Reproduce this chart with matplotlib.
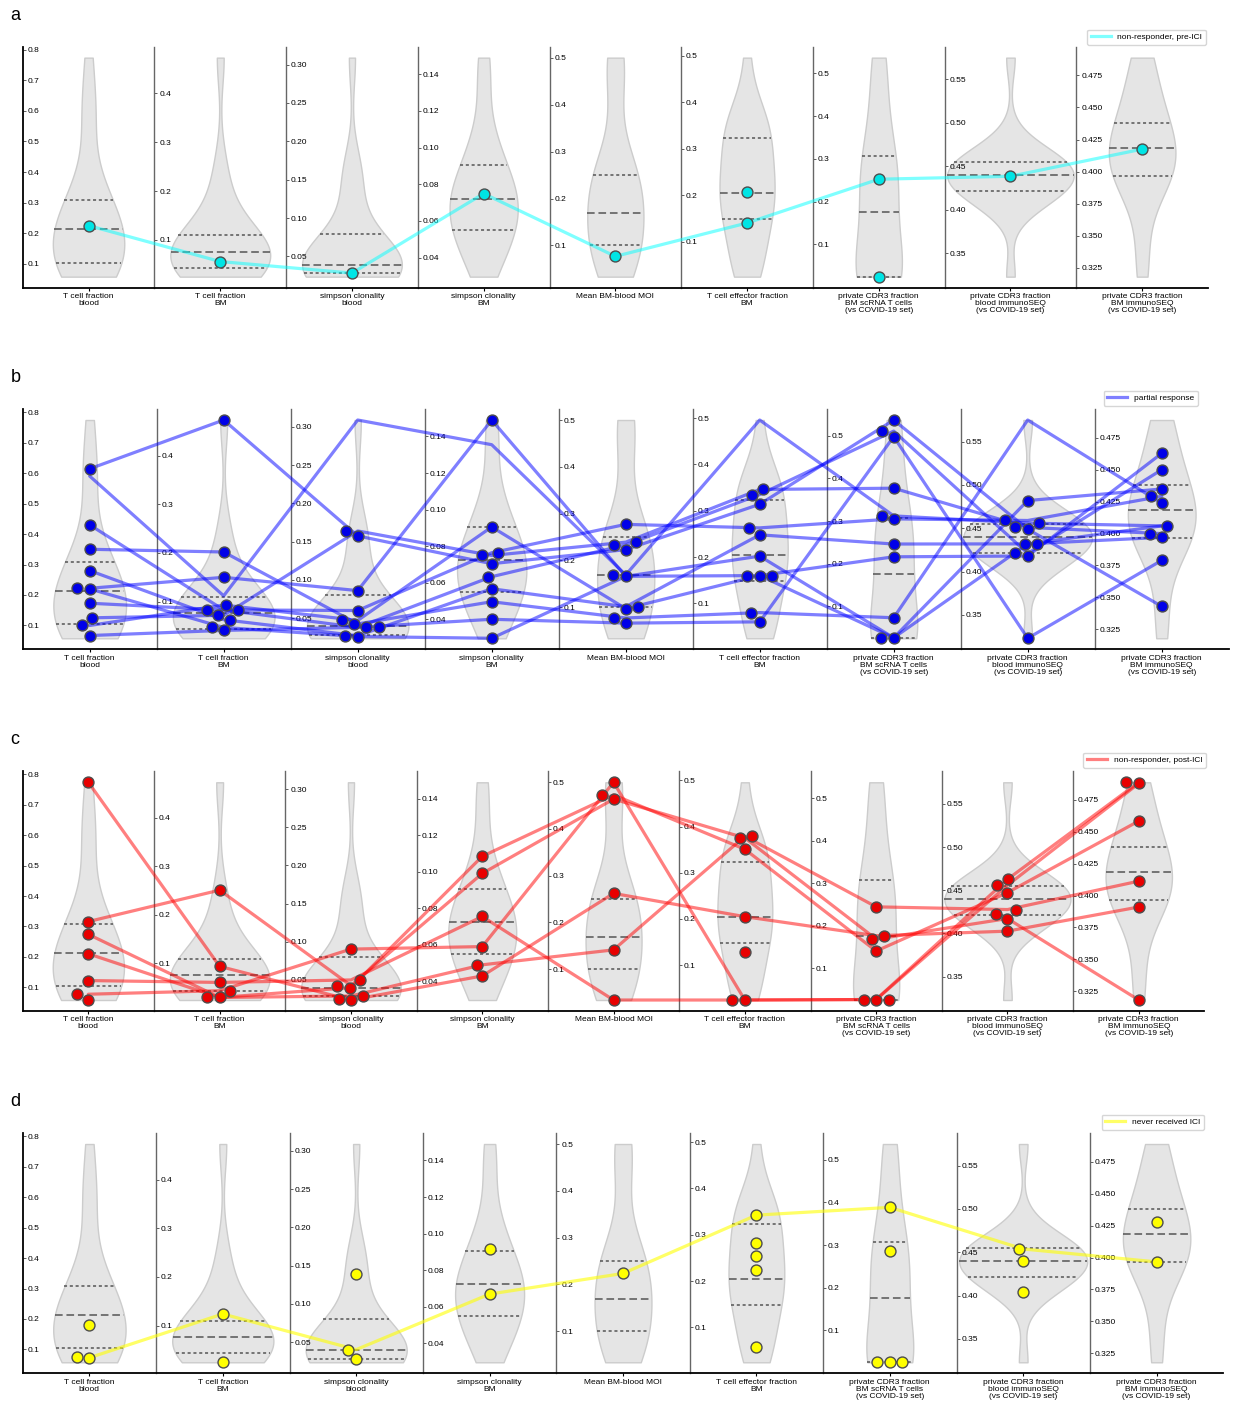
import numpy as np
import matplotlib.pyplot as plt
from matplotlib.lines import Line2D
from matplotlib.ticker import MaxNLocator, FixedLocator

plt.rcParams['font.family'] = ['Liberation Sans', 'DejaVu Sans']

# === Variables: one violin and one y-scale each ===
labels = [
    "T cell fraction\nblood",
    "T cell fraction\nBM",
    "simpson clonality\nblood",
    "simpson clonality\nBM",
    "Mean BM-blood MOI",
    "T cell effector fraction\nBM",
    "private CDR3 fraction\nBM scRNA T cells\n(vs COVID-19 set)",
    "private CDR3 fraction\nblood immunoSEQ\n(vs COVID-19 set)",
    "private CDR3 fraction\nBM immunoSEQ\n(vs COVID-19 set)",
]

# === Quartile lines of the violins ===
q25 = [0.104, 0.043, 0.0284, 0.055, 0.100, 0.149, 0.025, 0.421, 0.3966]
q50 = [0.214, 0.076, 0.0395, 0.0722, 0.169, 0.205, 0.176, 0.4396, 0.4187]
q75 = [0.307, 0.110, 0.0797, 0.0906, 0.251, 0.324, 0.306, 0.4546, 0.4379]

# === a: non-responder, pre-ICI ===
a_dots = [[0.225], [0.0557], [0.0283], [0.0749], [0.0768], [0.2058, 0.14],
          [0.2527, 0.0248], [0.4385], [0.4175]]
a_lines = [[0.225, 0.0557, 0.0283, 0.0749, 0.0768, 0.14, 0.2527, 0.4385, 0.4175]]

# === b: partial response ===
b_dots = [
    [0.614, 0.43, 0.35, 0.28, 0.222, 0.22, 0.173, 0.125, 0.10, 0.067],
    [0.473, 0.202, 0.15, 0.093, 0.083, 0.083, 0.072, 0.063, 0.047, 0.041],
    [0.164, 0.1575, 0.086, 0.06, 0.047, 0.0425, 0.038, 0.038, 0.027, 0.026],
    [0.149, 0.0905, 0.0764, 0.0749, 0.0704, 0.0633, 0.0567, 0.0496, 0.04, 0.0296],
    [0.277, 0.239, 0.233, 0.223, 0.169, 0.166, 0.101, 0.097, 0.077, 0.066],
    [0.346, 0.335, 0.314, 0.263, 0.248, 0.202, 0.16, 0.16, 0.16, 0.08, 0.06],
    [0.537, 0.511, 0.498, 0.377, 0.312, 0.305, 0.246, 0.216, 0.073, 0.026, 0.026],
    [0.482, 0.459, 0.456, 0.451, 0.449, 0.432, 0.432, 0.421, 0.418, 0.323],
    [0.4628, 0.45, 0.4349, 0.4292, 0.4238, 0.406, 0.40, 0.397, 0.379, 0.343],
]
b_lines = [
    [0.614, 0.473, 0.1575, 0.0704, 0.223, 0.314, 0.537, 0.449, 0.343],
    [0.59, 0.112, 0.309, 0.1355, 0.169, 0.496, 0.312, 0.456, 0.406],
    [0.43, 0.083, 0.038, 0.0633, 0.233, 0.335, 0.511, 0.421, 0.45],
    [0.35, 0.202, 0.0425, 0.0496, 0.077, 0.08, 0.073, 0.575, 0.4238],
    [0.28, 0.063, 0.027, 0.0567, 0.101, 0.248, 0.246, 0.432, 0.397],
    [0.222, 0.15, 0.086, 0.149, 0.166, 0.16, 0.216, 0.418, 0.4628],
    [0.22, 0.047, 0.026, 0.0296, 0.166, 0.202, 0.026, 0.482, 0.4349],
    [0.173, 0.083, 0.06, 0.0764, 0.277, 0.263, 0.305, 0.459, 0.4292],
    [0.125, 0.072, 0.164, 0.0749, 0.239, 0.346, 0.377, 0.451, 0.40],
    [0.10, 0.093, 0.047, 0.0905, 0.097, 0.16, 0.026, 0.432, 0.406],
    [0.067, 0.041, 0.038, 0.04, 0.066, 0.06, 0.498, 0.323, 0.379],
]

# === c: non-responder, post-ICI ===
c_dots = [
    [0.774, 0.316, 0.274, 0.21, 0.122, 0.077, 0.058],
    [0.251, 0.094, 0.061, 0.044, 0.03, 0.03],
    [0.0904, 0.05, 0.0426, 0.04, 0.029, 0.0255, 0.0237],
    [0.1084, 0.099, 0.0754, 0.0589, 0.0489, 0.0428],
    [0.5, 0.473, 0.464, 0.262, 0.141, 0.0336],
    [0.379, 0.3755, 0.351, 0.205, 0.129, 0.0245, 0.0245],
    [0.244, 0.176, 0.168, 0.14, 0.026, 0.026, 0.026],
    [0.4627, 0.4558, 0.4473, 0.4277, 0.4231, 0.4173, 0.4027],
    [0.4889, 0.488, 0.4585, 0.4113, 0.391, 0.318],
]
c_lines = [
    [0.774, 0.094, 0.0237, 0.0428, 0.262, 0.205, 0.176, 0.4027, 0.391],
    [0.316, 0.251, 0.0426, 0.099, 0.464, 0.3755, 0.168, 0.4173, 0.318],
    [0.274, 0.03, 0.029, 0.0489, 0.141, 0.379, 0.244, 0.4277, 0.4113],
    [0.21, 0.03, 0.04, 0.1084, 0.473, 0.351, 0.14, 0.4473, 0.4585],
    [0.122, 0.061, 0.05, 0.0754, 0.0336, 0.0245, 0.026, 0.4558, 0.488],
    [0.077, 0.044, 0.0904, 0.0589, 0.5, 0.0245, 0.026, 0.4627, 0.4889],
]

# === d: never received ICI ===
d_dots = [[0.179, 0.075, 0.073], [0.124, 0.0248], [0.139, 0.0403, 0.0284],
          [0.0918, 0.0669], [0.2234], [0.3424, 0.282, 0.2532, 0.223, 0.0583],
          [0.3883, 0.2852, 0.0262, 0.0262, 0.0262], [0.4538, 0.4404, 0.4038],
          [0.4281, 0.3966]]
d_lines = [[0.073, 0.124, 0.0403, 0.0669, 0.2234, 0.3424, 0.3883, 0.4538, 0.3966]]

groups = [
    ("a", "non-responder, pre-ICI", "#00e5e5", "cyan", 0.5, a_dots, a_lines),
    ("b", "partial response", "#0000e8", "#0000ff", 0.5, b_dots, b_lines),
    ("c", "non-responder, post-ICI", "#e80000", "#ff0000", 0.5, c_dots, c_lines),
    ("d", "never received ICI", "#ffff00", "#ffff00", 0.6, d_dots, d_lines),
]

# panel boxes in pixels: left, top, right, bottom ; legend right/bottom
W, H = 1233, 1406
boxes = {"a": (22.7, 46.7, 1208.0, 287.6), "b": (22.7, 409.1, 1228.7, 649.2),
         "c": (22.7, 771.4, 1204.4, 1010.9), "d": (22.7, 1133.1, 1223.3, 1373.2)}
leg_pos = {"a": (1206, 45), "b": (1198, 406), "c": (1206, 768), "d": (1204, 1130)}

# === pooled data behind the violins (dots + line vertices without a dot) ===
pool = [[] for _ in range(9)]
for g in groups:
    dots, lines = g[5], g[6]
    for j in range(9):
        pool[j] += list(dots[j])
        extra = set()
        for ln in lines:
            if not any(abs(ln[j] - v) < 1e-9 for v in dots[j]):
                extra.add(ln[j])
        pool[j] += sorted(extra)

vmin = [min(p) for p in pool]
vmax = [max(p) for p in pool]


def norm(v, j):
    return (np.asarray(v, dtype=float) - vmin[j]) / (vmax[j] - vmin[j])


# gaussian kde (scott) in normalized units, cut at data range
grids, dens = [], []
for j in range(9):
    x = norm(pool[j], j)
    bw = x.std(ddof=1) * len(x) ** (-0.2)
    grid = np.linspace(0, 1, 200)
    z = (grid[:, None] - x[None, :]) / bw
    dens.append(np.exp(-0.5 * z ** 2).sum(1) / (len(x) * bw * np.sqrt(2 * np.pi)))
    grids.append(grid)
gmax = max(d.max() for d in dens)
half = 0.48

# tick values per scale: nice steps inside the data range (small slack)
ticks = []
for j in range(9):
    lo, hi = vmin[j], vmax[j]
    span = hi - lo
    tv = MaxNLocator(nbins=9, steps=[1, 2, 2.5, 5, 10]).tick_values(lo - 0.05 * span, hi + 0.05 * span)
    ticks.append([t for t in tv if lo - 0.04 * span <= t <= hi + 0.04 * span])


def swarm(ys, diam):
    # simple beeswarm in pixel units, returns x offsets in px
    order = np.argsort(ys)
    placed = []
    out = np.zeros(len(ys))
    for i in order:
        y = ys[i]
        cands = [0.0]
        for px, py in placed:
            dy = y - py
            if abs(dy) < diam:
                dx = np.sqrt(diam ** 2 - dy ** 2)
                cands += [px - dx, px + dx]
        cands.sort(key=abs)
        for c in cands:
            if all((c - px) ** 2 + (y - py) ** 2 >= diam ** 2 - 1e-6 for px, py in placed):
                break
        placed.append((c, y))
        out[i] = c
    return out


fig = plt.figure(figsize=(W / 100, H / 100), dpi=100)

for key, name, dotcol, linecol, alpha, dots, lines in groups:
    l, t, r, b = boxes[key]
    ax = fig.add_axes([l / W, 1 - b / H, (r - l) / W, (b - t) / H])
    ax.set_xlim(-0.5, 8.5)
    ax.set_ylim(-0.05, 1.05)
    px_x = (r - l) / 9
    px_y = (b - t) / 1.1

    for s in ("top", "right", "left"):
        ax.spines[s].set_visible(False)
    ax.spines["bottom"].set_linewidth(1.3)
    ax.set_yticks([])
    ax.set_xticks(range(9))
    ax.set_xticklabels(labels, fontsize=6, linespacing=1.0)
    ax.tick_params(axis="x", length=2.5, width=0.8, pad=1.5)

    # per-variable scales on separators
    for j in range(9):
        lo, hi = vmin[j], vmax[j]
        sec = ax.secondary_yaxis(j / 9, functions=(lambda y, lo=lo, hi=hi: lo + y * (hi - lo),
                                                   lambda v, lo=lo, hi=hi: (v - lo) / (hi - lo)))
        sec.set_alignment("right")
        sec.set_zorder(1.5)
        sec.yaxis.set_major_locator(FixedLocator(ticks[j]))
        sec.tick_params(labelsize=6, length=2.0, width=0.6, pad=1.5, color="#444444")
        sec.spines["right"].set_color("black" if j == 0 else "#666666")
        sec.spines["right"].set_linewidth(1.3 if j == 0 else 1.0)

    # violins + quartiles
    for j in range(9):
        w = dens[j] / gmax * half
        ax.fill_betweenx(grids[j], j - w, j + w, facecolor="#e5e5e5",
                         edgecolor="#cccccc", linewidth=1.0, zorder=1)
        for q, dash in ((q25[j], (2, 1.8)), (q50[j], (5, 2.5)), (q75[j], (2, 1.8))):
            qn = float(norm(q, j))
            hw = np.interp(qn, grids[j], w)
            ax.plot([j - hw, j + hw], [qn, qn], color="#555555", lw=1.1,
                    dashes=dash, zorder=2)

    # patient lines
    for ln in lines:
        ys = [float(norm(v, j)) for j, v in enumerate(ln)]
        ax.plot(range(9), ys, color=linecol, alpha=alpha, lw=2.3,
                solid_joinstyle="round", solid_capstyle="round", zorder=3)

    # dots, swarmed
    for j in range(9):
        ys = norm(dots[j], j)
        off = swarm(ys * px_y, 12.5) / px_x
        ax.scatter(j + off, ys, s=62, c=dotcol, edgecolors="#4d4d4d",
                   linewidths=1.0, zorder=4)

    h = Line2D([0], [0], color=linecol, alpha=alpha, lw=2.3)
    lx, ly = leg_pos[key]
    ax.legend([h], [name], loc="lower right", bbox_to_anchor=(lx / W, 1 - ly / H),
              bbox_transform=fig.transFigure, borderaxespad=0, fontsize=6,
              handlelength=2.4, borderpad=0.45)

    fig.text(10.5 / W, 1 - (t - 27) / H, key, fontsize=13, va="baseline")

fig.savefig("out.png", dpi=100)
